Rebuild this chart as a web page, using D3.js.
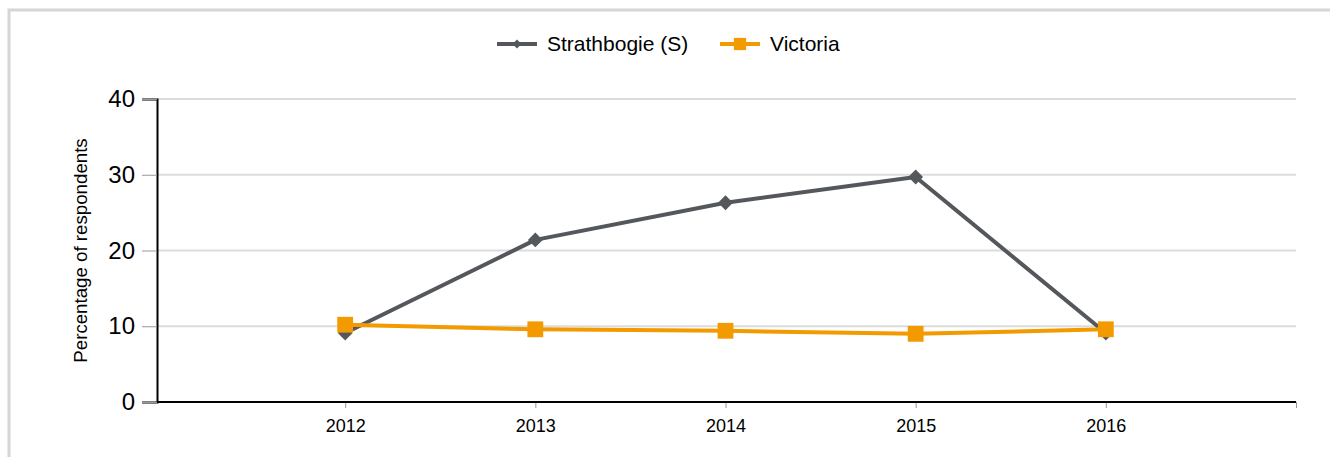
<!DOCTYPE html>
<html>
<head>
<meta charset="utf-8">
<script src="https://cdn.jsdelivr.net/npm/d3@7"></script>
<style>
  body { margin: 0; background: #fff; font-family: Arial, "Liberation Sans", sans-serif; }
</style>
</head>
<body>
<svg id="chart"></svg>
<script>
const years = [2012, 2013, 2014, 2015, 2016];
const strathbogie = [9.1, 21.4, 26.3, 29.7, 9.1];
const victoria = [10.2, 9.6, 9.4, 9.0, 9.6];
const yTicks = [0, 10, 20, 30, 40];

const width = 1330;
const height = 457;
const margin = {top: 99, right: 34, bottom: 55, left: 157};
const font = 'Arial, "Liberation Sans", sans-serif';

const svg = d3.select('#chart')
  .attr('width', width)
  .attr('height', height);

// frame
svg.append('path')
  .attr('d', `M9,${height} V10 H${width}`)
  .attr('fill', 'none')
  .attr('stroke', '#d6d6d6')
  .attr('stroke-width', 3);

const x = d3.scaleLinear()
  .domain([2011, 2017])
  .range([margin.left - 2, width - margin.right]);

const y = d3.scaleLinear()
  .domain([0, 40])
  .range([height - margin.bottom, margin.top]);

// grid
svg.append('g')
  .selectAll('line')
  .data(yTicks.slice(1))
  .join('line')
  .attr('x1', margin.left)
  .attr('x2', width - margin.right)
  .attr('y1', d => y(d))
  .attr('y2', d => y(d))
  .attr('stroke', '#dcdcdc')
  .attr('stroke-width', 2);

// x axis
const xAxis = svg.append('g')
  .attr('transform', `translate(0, ${y(0)})`)
  .call(d3.axisBottom(x)
    .tickValues(d3.range(2012, 2018))
    .tickSize(6)
    .tickPadding(11)
    .tickFormat(d => years.includes(d) ? String(d) : ''));
xAxis.select('.domain').remove();
xAxis.append('line')
  .attr('x1', margin.left).attr('x2', width - margin.right)
  .attr('stroke', '#000').attr('stroke-width', 2);
xAxis.selectAll('.tick line').attr('stroke', '#999').attr('stroke-width', 1);
xAxis.selectAll('.tick text')
  .attr('font-size', 18)
  .attr('font-family', font)
  .attr('fill', '#000');

// y axis
const yAxis = svg.append('g')
  .attr('transform', `translate(${margin.left}, 0)`)
  .call(d3.axisLeft(y).tickValues(yTicks).tickSize(15).tickPadding(7));
yAxis.select('.domain').attr('stroke', '#000').attr('stroke-width', 2);
yAxis.selectAll('.tick line').attr('stroke', '#999').attr('stroke-width', 1);
yAxis.selectAll('.tick text')
  .attr('font-size', 24)
  .attr('font-family', font)
  .attr('fill', '#000');

// y title
svg.append('text')
  .attr('transform', `translate(87, ${y(20)}) rotate(-90)`)
  .attr('text-anchor', 'middle')
  .attr('font-size', 18.7)
  .attr('font-family', font)
  .attr('fill', '#000')
  .text('Percentage of respondents');

const series = [
  {name: 'Strathbogie (S)', values: strathbogie, color: '#54585c', rot: 45, size: 110, legendSize: 40},
  {name: 'Victoria', values: victoria, color: '#f39a00', rot: 0, size: 250, legendSize: 150}
];

const line = d3.line()
  .x((d, i) => x(years[i]))
  .y(d => y(d));

series.forEach(s => {
  const g = svg.append('g');
  g.append('path')
    .attr('d', line(s.values))
    .attr('fill', 'none')
    .attr('stroke', s.color)
    .attr('stroke-width', 4)
    .attr('stroke-linejoin', 'round');
  g.selectAll('path.pt')
    .data(s.values)
    .join('path')
    .attr('class', 'pt')
    .attr('transform', (d, i) => `translate(${x(years[i])}, ${y(d)}) rotate(${s.rot})`)
    .attr('d', d3.symbol().type(d3.symbolSquare).size(s.size))
    .attr('fill', s.color);
});

// legend
const legendPos = [497, 720];
const legend = svg.append('g');
series.forEach((s, i) => {
  const lg = legend.append('g').attr('transform', `translate(${legendPos[i]}, 44)`);
  lg.append('line')
    .attr('x1', 0).attr('x2', 40)
    .attr('stroke', s.color)
    .attr('stroke-width', 4);
  lg.append('path')
    .attr('transform', `translate(20, 0) rotate(${s.rot})`)
    .attr('d', d3.symbol().type(d3.symbolSquare).size(s.legendSize))
    .attr('fill', s.color);
  lg.append('text')
    .attr('x', 50)
    .attr('dy', '0.35em')
    .attr('font-size', 21)
    .attr('font-family', font)
    .attr('fill', '#000')
    .text(s.name);
});
</script>
</body>
</html>
